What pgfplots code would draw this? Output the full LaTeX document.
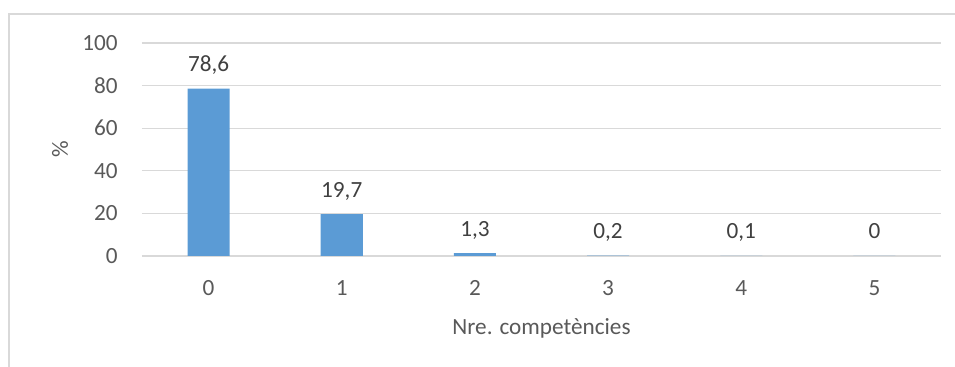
\documentclass[border=0pt]{standalone}
\usepackage{pgfplots}
\pgfplotsset{compat=1.18}
\usepackage{fontspec}
\setmainfont{Carlito}

\definecolor{barblue}{HTML}{5B9BD5}
\definecolor{gridgray}{HTML}{D9D9D9}
\definecolor{ticktext}{HTML}{595959}
\definecolor{labeltext}{HTML}{404040}

\begin{document}
\begin{tikzpicture}
\useasboundingbox (0,0) rectangle (477.5pt,183.5pt);
% chart frame
\draw[gridgray, line width=0.6pt] (4.5pt,0) -- (4.5pt,176.5pt) -- (477.5pt,176.5pt);
\begin{axis}[
  at={(71pt,55.5pt)}, anchor=south west,
  scale only axis,
  width=399.5pt, height=106.5pt,
  font=\fontsize{11.6}{13}\selectfont,
  /pgf/number format/assume math mode=true,
  /pgf/number format/use comma,
  ybar, bar width=21pt,
  xmin=-0.5, xmax=5.5,
  ymin=0, ymax=100,
  xtick={0,1,2,3,4,5},
  xticklabels={0,1,2,3,4,5},
  ytick={0,20,40,60,80,100},
  axis x line*=bottom, axis y line*=left,
  x axis line style={draw=gridgray, line width=0.6pt, -},
  y axis line style={draw=none},
  major tick length=0pt,
  xtick style={draw=none}, ytick style={draw=none},
  extra x ticks={-0.5,0.5,1.5,2.5,3.5,4.5,5.5},
  extra x tick labels={},
  extra x tick style={tick align=outside, major tick length=3.5pt,
    tick style={draw=gridgray, line width=0.6pt}, grid=none},
  ymajorgrids, grid style={draw=gridgray, line width=0.6pt},
  yticklabel style={anchor=east, inner sep=0pt, xshift=-12pt, text=ticktext},
  xticklabel style={anchor=north, inner sep=0pt, yshift=-12pt, text=ticktext},
  xlabel={Nre. competències},
  ylabel={\%},
  xlabel style={at={(axis description cs:0.5,0)}, anchor=base, inner sep=0pt, yshift=-39.5pt, text=ticktext},
  ylabel style={at={(axis description cs:-0.1026,0.5)}, anchor=center, inner sep=0pt, text=ticktext},
  nodes near coords,
  nodes near coords style={anchor=base, inner sep=0pt, yshift=8.5pt, text=labeltext},
]
\addplot[fill=barblue, draw=none] coordinates {
  (0,78.6) (1,19.7) (2,1.3) (3,0.2) (4,0.1) (5,0)
};
\end{axis}
\end{tikzpicture}
\end{document}
